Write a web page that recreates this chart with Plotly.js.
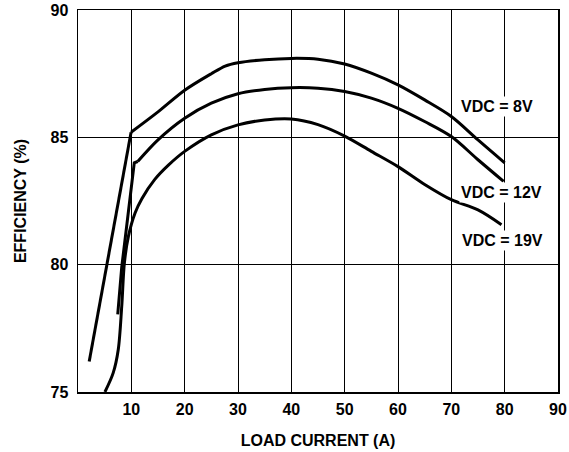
<!DOCTYPE html>
<html>
<head>
<meta charset="utf-8">
<script src="https://cdn.plot.ly/plotly-3.0.1.min.js"></script>
<style>html,body{margin:0;padding:0;background:#fff;}#chart{width:569px;height:452px;}</style>
</head>
<body>
<div id="chart"></div>
<script>
// Load current (A) and efficiency (%)
const load8  = [2.1, 9.95, 15, 20, 25, 27.6, 30, 35, 40, 45, 50, 55, 60, 65, 70, 75, 80];
const eff8   = [76.2, 85.2, 86.0, 86.85, 87.5, 87.8, 87.93, 88.05, 88.1, 88.07, 87.88, 87.52, 87.06, 86.47, 85.82, 84.9, 84.0];

const load12 = [7.45, 8.2, 10.55, 11.2, 15, 20, 25, 30, 35, 40, 45, 50, 55, 60, 65, 70, 75, 79.8];
const eff12  = [78.05, 79.9, 84.0, 84.05, 84.9, 85.75, 86.34, 86.71, 86.88, 86.95, 86.93, 86.8, 86.54, 86.14, 85.62, 85.03, 84.12, 83.27];

const load19 = [5.05, 6.6, 7.55, 8.2, 8.7, 9.45, 10.7, 12, 14.4, 17, 20, 25, 30, 35, 40, 45, 50, 55, 60, 65, 70, 75, 79.4];
const eff19  = [75.0, 75.75, 76.67, 78.36, 80.07, 81.11, 82.03, 82.6, 83.35, 83.92, 84.45, 85.1, 85.49, 85.68, 85.72, 85.5, 85.05, 84.45, 83.85, 83.15, 82.55, 82.15, 81.57];

const seriesLabels = ["VDC = 8V", "VDC = 12V", "VDC = 19V"];
const xTicks = [10, 20, 30, 40, 50, 60, 70, 80, 90];
const yTicks = [75, 80, 85, 90];
const xTitle = "LOAD CURRENT (A)";
const yTitle = "EFFICIENCY (%)";

const FONT = "'Liberation Sans', Arial, Helvetica, sans-serif";
const lineStyle = {color: "#000", width: 3};

function pieces(xs, ys, k) {
  // straight start (linear) then smooth curve (spline)
  return [
    {x: xs.slice(0, k + 1), y: ys.slice(0, k + 1), mode: "lines", line: Object.assign({shape: "linear"}, lineStyle), hoverinfo: "skip", showlegend: false},
    {x: xs.slice(k), y: ys.slice(k), mode: "lines", line: Object.assign({shape: "spline", smoothing: 0.9}, lineStyle), showlegend: false}
  ];
}

const data = [].concat(
  pieces(load8, eff8, 1),
  pieces(load12, eff12, 3),
  pieces(load19, eff19, 0)
);

const annFont = {family: FONT, size: 16, color: "#000", weight: "bold"};
const annotations = [
  {x: 78.6, y: 86.2, text: seriesLabels[0]},
  {x: 79.4, y: 82.82, text: seriesLabels[1]},
  {x: 79.5, y: 80.94, text: seriesLabels[2]}
].map(a => Object.assign({xref: "x", yref: "y", showarrow: false, bgcolor: "#fff", borderpad: 1, font: annFont}, a));

const axisCommon = {
  showline: true, mirror: true, linecolor: "#000", linewidth: 1.5,
  showgrid: true, gridcolor: "#000", gridwidth: 1,
  zeroline: false, ticks: "",
  tickfont: {family: FONT, size: 16, color: "#000", weight: "bold"},
  fixedrange: true
};

const titleFont = {family: FONT, size: 16, color: "#000", weight: "bold"};

const layout = {
  width: 569, height: 452,
  margin: {l: 78, r: 11, t: 10, b: 60},
  paper_bgcolor: "#fff", plot_bgcolor: "#fff",
  showlegend: false,
  xaxis: Object.assign({}, axisCommon, {
    range: [0, 90], tickvals: xTicks, ticktext: xTicks.map(String),
    ticklabelstandoff: 2,
    title: {text: xTitle, font: titleFont, standoff: 18}
  }),
  yaxis: Object.assign({}, axisCommon, {
    range: [75, 90], tickvals: yTicks, ticktext: yTicks.map(String),
    ticklabelstandoff: 5,
    title: {text: yTitle, font: titleFont, standoff: 20}
  }),
  annotations: annotations
};

Plotly.newPlot("chart", data, layout, {staticPlot: true, displayModeBar: false});
</script>
</body>
</html>
